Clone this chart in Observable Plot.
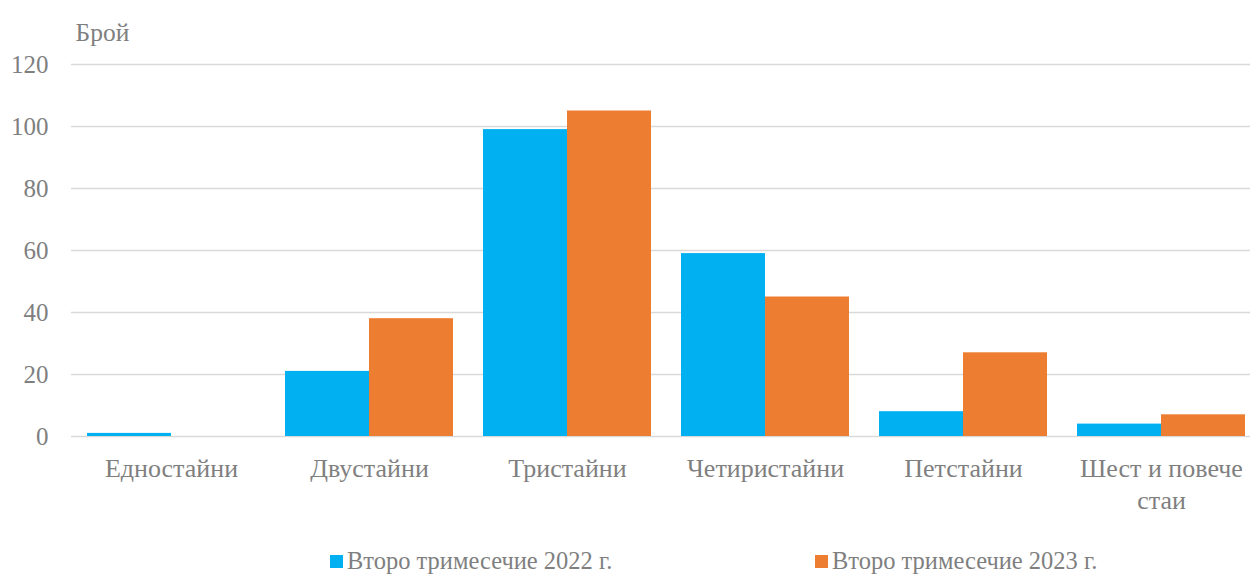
<!DOCTYPE html>
<html>
<head>
<meta charset="utf-8">
<script src="https://cdn.jsdelivr.net/npm/d3@7"></script>
<script src="https://cdn.jsdelivr.net/npm/@observablehq/plot@0.6"></script>
<style>
  html, body { margin: 0; padding: 0; background: #fff; overflow: hidden; }
  #wrap { width: 1250px; position: relative; }
  #legend { position: relative; height: 44px; width: 1250px; color: #7f7f7f; font-size: 24.5px; }
  .item { position: absolute; top: 17px; display: flex; align-items: center; white-space: nowrap; }
  .sw { width: 13px; height: 13px; margin-right: 4px; display: inline-block; }
  svg text { font-family: Tinos, 'Liberation Serif', serif; }
</style>
</head>
<body>
<div id="wrap"></div>
<div id="legend" style="font-family:'Liberation Serif'">
  <div class="item" style="left:330px"><span class="sw" style="background:#00B0F0"></span><span id="l0" style="font-family:'Liberation Serif'"></span></div>
  <div class="item" style="left:815px"><span class="sw" style="background:#ED7D31"></span><span id="l1" style="font-family:'Liberation Serif'"></span></div>
</div>
<script>
const categories = ["Едностайни", "Двустайни", "Тристайни", "Четиристайни", "Петстайни", "Шест и повече\nстаи"];
const seriesNames = ["Второ тримесечие 2022 г.", "Второ тримесечие 2023 г."];
const values2022 = [1, 21, 99, 59, 8, 4];
const values2023 = [0, 38, 105, 45, 27, 7];
const yTicks = [0, 20, 40, 60, 80, 100, 120];
const colors = ["#00B0F0", "#ED7D31"];

const d2022 = categories.map((c, i) => ({cat: c, v: values2022[i]}));
const d2023 = categories.map((c, i) => ({cat: c, v: values2023[i]}));

const textColor = "#7f7f7f";
const halfBand = 84;

const chart = Plot.plot({
  width: 1250,
  height: 530,
  marginTop: 64,
  marginBottom: 94,
  marginLeft: 71,
  marginRight: -11,
  style: "font-family: 'Liberation Serif', serif; font-size: 25px; color: #7f7f7f; background: transparent; overflow: visible;",
  x: {domain: categories, paddingInner: 0.153, paddingOuter: 0.0766, axis: null},
  y: {domain: [0, 120], ticks: yTicks, tickSize: 0, tickPadding: 23, label: null, tickFormat: d3.format("d")},
  marks: [
    Plot.ruleY(yTicks, {stroke: "#d9d9d9", strokeWidth: 1.5}),
    Plot.barY(d2022, {x: "cat", y: "v", fill: colors[0], insetRight: halfBand}),
    Plot.barY(d2023, {x: "cat", y: "v", fill: colors[1], insetLeft: halfBand}),
    Plot.text(categories, {x: d => d, y: () => 0, dy: 17, lineAnchor: "top", lineHeight: 1.25, fill: textColor, fontSize: 26, fontFamily: "Liberation Serif"}),
    Plot.text(["Брой"], {frameAnchor: "top-left", dx: 4, dy: -42, textAnchor: "start", fill: textColor, fontSize: 25.5, fontFamily: "Liberation Serif"})
  ]
});

document.getElementById("wrap").appendChild(chart);
document.getElementById("l0").textContent = seriesNames[0];
document.getElementById("l1").textContent = seriesNames[1];
</script>
</body>
</html>
